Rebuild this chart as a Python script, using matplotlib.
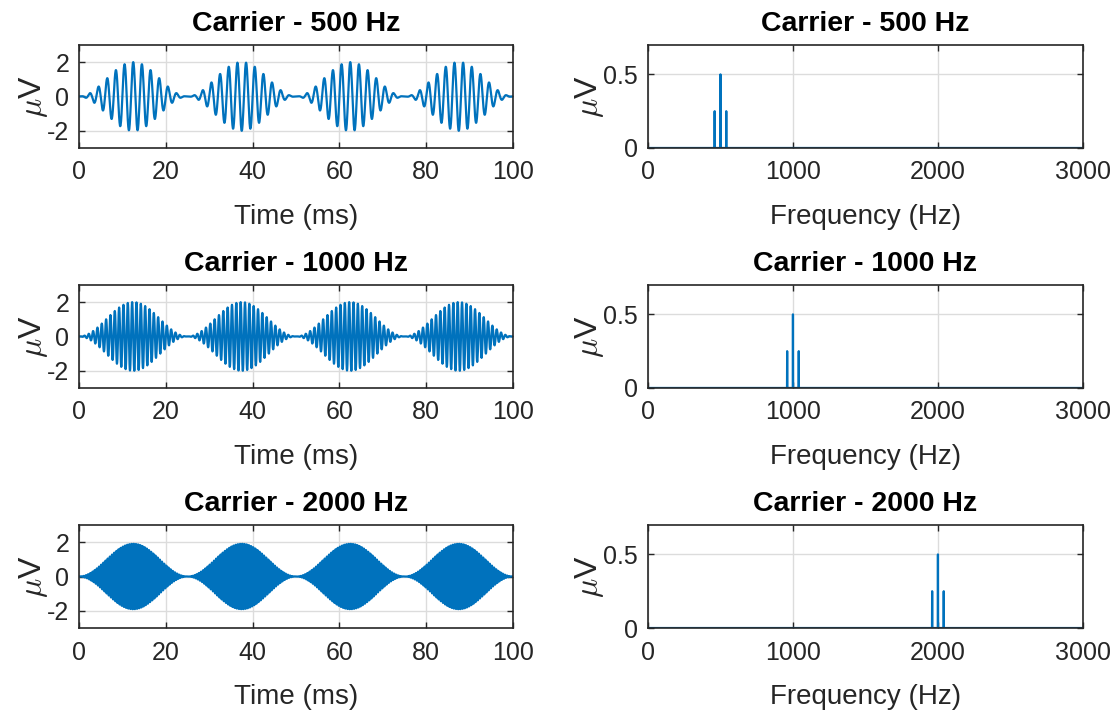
import numpy as np
import matplotlib
matplotlib.use("Agg")
from matplotlib import pyplot as plt

plt.rcParams['font.family'] = ['Liberation Sans', 'DejaVu Sans']
plt.rcParams['mathtext.fontset'] = 'cm'
plt.rcParams['axes.unicode_minus'] = False

# signal parameters
carriers = [500, 1000, 2000]        # Hz
mod_freq = 40                       # Hz, 4 envelope cycles in 100 ms
peak_amp = 2.0                      # uV, envelope maximum
duration_ms = 100                   # shown time window
spec_len_s = 1.0                    # length used for the spectrum
fs = 20000                          # Hz

titles = ['Carrier - 500 Hz', 'Carrier - 1000 Hz', 'Carrier - 2000 Hz']
time_ticks = [0, 20, 40, 60, 80, 100]
uv_ticks = [-2, 0, 2]
freq_ticks = [0, 1000, 2000, 3000]
amp_ticks = [0, 0.5]

blue = '#0072BD'
dark = '#262626'

t = np.arange(0, spec_len_s, 1 / fs)
t_ms = t * 1000
show = t_ms <= duration_ms
freqs = np.fft.rfftfreq(len(t), 1 / fs)

fig = plt.figure(figsize=(11.17, 7.17), dpi=100)

rows_bottom = [0.7936, 0.4589, 0.1241]
h = 0.1437


def style(ax):
    ax.tick_params(axis='both', direction='in', top=True, right=True, labelsize=18,
                   length=4, width=1.0, color=dark, labelcolor=dark)
    ax.tick_params(axis='x', pad=9)
    ax.tick_params(axis='y', pad=7)
    ax.grid(True, color='#dcdcdc', linewidth=1.0)
    ax.set_axisbelow(True)
    for s in ax.spines.values():
        s.set_color(dark)
        s.set_linewidth(1.2)


for i, fc in enumerate(carriers):
    sig = (peak_amp / 2) * (1 - np.cos(2 * np.pi * mod_freq * t)) * np.sin(2 * np.pi * fc * t)
    spec = np.abs(np.fft.rfft(sig)) / len(t)

    ax = fig.add_axes([0.0707, rows_bottom[i], 0.3886, h])
    ax.plot(t_ms[show], sig[show], color=blue, linewidth=1.6)
    ax.set_xlim(0, 100)
    ax.set_ylim(-3, 3)
    ax.set_xticks(time_ticks)
    ax.set_yticks(uv_ticks)
    ax.set_xlabel('Time (ms)', fontsize=20, color=dark, labelpad=14)
    ax.set_ylabel(r'$\mu$V', fontsize=23, color=dark, labelpad=-2)
    ax.set_title(titles[i], fontsize=20.5, fontweight='bold', pad=10)
    style(ax)

    ax2 = fig.add_axes([0.5801, rows_bottom[i], 0.3894, h])
    ax2.plot(freqs, spec, color=blue, linewidth=1.6)
    ax2.set_xlim(0, 3000)
    ax2.set_ylim(0, 0.7)
    ax2.set_xticks(freq_ticks)
    ax2.set_yticks(amp_ticks)
    ax2.set_yticklabels(['0', '0.5'])
    ax2.set_xlabel('Frequency (Hz)', fontsize=20, color=dark, labelpad=14)
    ax2.set_ylabel(r'$\mu$V', fontsize=23, color=dark, labelpad=-2)
    ax2.set_title(titles[i], fontsize=20.5, fontweight='bold', pad=10)
    style(ax2)

fig.savefig('out.png', dpi=100, facecolor='white')
